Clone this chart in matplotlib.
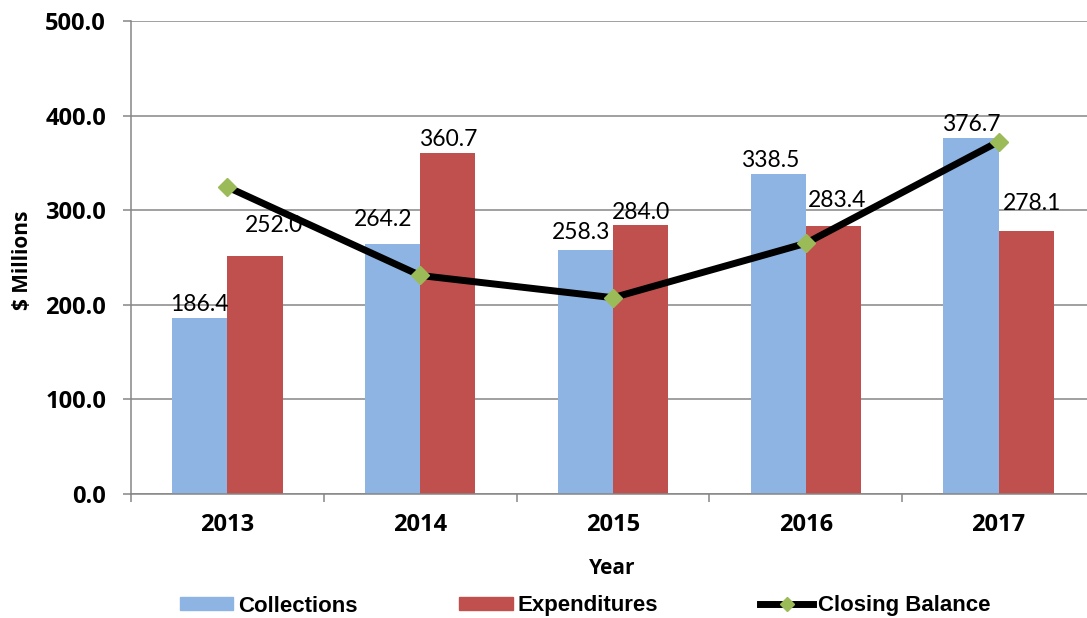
import numpy as np
import matplotlib
matplotlib.use("Agg")
import matplotlib.pyplot as plt
from matplotlib.patches import Patch
from matplotlib.lines import Line2D

# Data
years = ["2013", "2014", "2015", "2016", "2017"]
collections = [186.4, 264.2, 258.3, 338.5, 376.7]
expenditures = [252.0, 360.7, 284.0, 283.4, 278.1]
closing_balance = [324.5, 231.0, 207.5, 265.0, 372.5]

# label nudges (points) so labels sit where the original put them
coll_nudge = [(0, 0), (-7, 8), (-3, 3), (-6, 0), (0, 0)]
exp_nudge = [(14, 12), (0, 0), (0, 0), (3, 9), (4, 10)]

blue = "#8EB4E3"
red = "#C0504D"
green = "#9BBB59"
grey = "#868686"
bold_font = "Open Sans"

fig = plt.figure(figsize=(10.87, 6.18), dpi=100)
ax = fig.add_axes([131 / 1087, 1 - 494 / 618, 964 / 1087, 473 / 618])

x = np.arange(len(years))
w = 0.286
b1 = ax.bar(x - w / 2, collections, w, color=blue, zorder=2)
b2 = ax.bar(x + w / 2, expenditures, w, color=red, zorder=2)

ax.plot(x, closing_balance, color="black", lw=5, marker="D", markersize=9,
        markerfacecolor=green, markeredgecolor=green, zorder=4)

# data labels
for bars, vals, nudge in [(b1, collections, coll_nudge), (b2, expenditures, exp_nudge)]:
    for bar, v, (dx, dy) in zip(bars, vals, nudge):
        ax.annotate(f"{v:.1f}", (bar.get_x() + bar.get_width() / 2, v),
                    xytext=(dx, 2 + dy), textcoords="offset points",
                    ha="center", va="bottom", fontsize=16.5, family="Lato", zorder=3)

ax.set_ylim(0, 500)
ax.set_xlim(-0.5, 4.5)
ax.set_yticks(np.arange(0, 501, 100))
ax.set_yticklabels([f"{v:.1f}" for v in np.arange(0, 501, 100)],
                   fontsize=17, fontweight="bold", family=bold_font)
ax.set_xticks(x)
ax.set_xticklabels(years, fontsize=17, fontweight="bold", family=bold_font)
ax.set_xticks(np.arange(-0.5, 5, 1), minor=True)
ax.tick_params(axis="x", which="major", length=0, pad=14)
ax.tick_params(axis="x", which="minor", length=6, color=grey, width=1.1, direction="out")
ax.tick_params(axis="y", length=6, color=grey, width=1.1, direction="out", pad=12)

ax.grid(axis="y", color=grey, lw=1.1, zorder=0)
ax.set_axisbelow(True)
for s in ["top", "right"]:
    ax.spines[s].set_visible(False)
for s in ["left", "bottom"]:
    ax.spines[s].set_color(grey)
    ax.spines[s].set_linewidth(1.1)

fig.text(612 / 1087, 1 - 568 / 618, "Year", ha="center", va="center",
         fontsize=15, fontweight="bold", family=bold_font)
fig.text(23 / 1087, 1 - 260 / 618, "$ Millions", ha="center", va="center", rotation=90,
         fontsize=15, fontweight="bold", family=bold_font)

handles = [
    Patch(color=blue),
    Patch(color=red),
    Line2D([], [], color="black", lw=5, marker="D", markersize=7,
           markerfacecolor=green, markeredgecolor=green),
]
fig.legend(handles, ["Collections", "Expenditures", "Closing Balance"],
           loc="center", bbox_to_anchor=(585 / 1087, 1 - 606 / 618), ncol=3,
           frameon=False, prop={"family": "Liberation Sans", "weight": "bold", "size": 16},
           handlelength=2.4, handleheight=0.55, handletextpad=0.2, columnspacing=4.6,
           borderaxespad=0, borderpad=0)

fig.savefig("out.png", dpi=100)
